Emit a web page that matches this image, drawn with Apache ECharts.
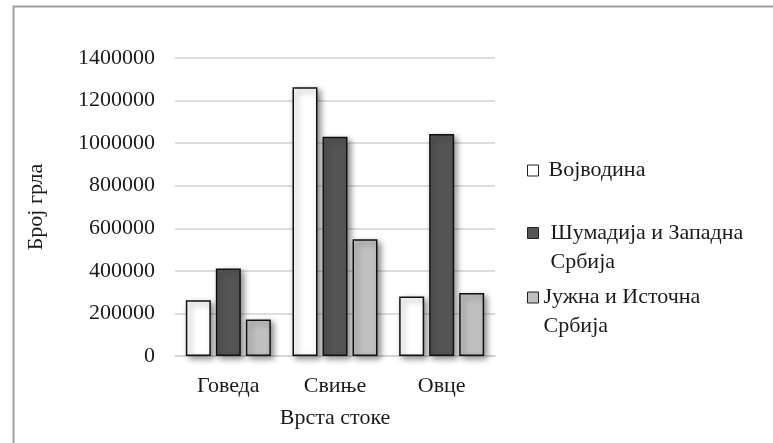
<!DOCTYPE html>
<html><head><meta charset="utf-8">
<script src="https://cdn.jsdelivr.net/npm/echarts@6/dist/echarts.min.js"></script>
<style>html,body{margin:0;padding:0;background:#fff}#c{width:773px;height:443px}</style>
</head><body><div id="c"></div>
<script>
var categories = ['Говеда', 'Свиње', 'Овце'];
var seriesNames = ['Војводина', 'Шумадија и Западна\nСрбија', 'Јужна и Источна\nСрбија'];
var vojvodina = [262000, 1263000, 279000];
var sumadija = [411000, 1030000, 1043000];
var juzna = [171000, 549000, 296000];
var yTicks = [0, 200000, 400000, 600000, 800000, 1000000, 1200000, 1400000];

var values = [vojvodina, sumadija, juzna];
var colors = ['#ffffff', '#555555', '#c0c0c0'];
var font = 'Liberation Serif';
var FS = 22, LH = 29;
var chart = echarts.init(document.getElementById('c'));
var legendTops = [156, 189.5, 254];
var legendPads = [[0, 0, 0, 5], [0, 0, 0, 7], [0, 0, 0, 0]];
var legends = seriesNames.map(function (n, i) {
  return {
    orient: 'vertical', left: 527, top: legendTops[i], data: [n], padding: 0,
    itemWidth: 11, itemHeight: 11, itemGap: 0, icon: 'rect',
    selectedMode: false,
    itemStyle: { borderColor: '#222', borderWidth: 1 },
    formatter: function (name) { return name.indexOf('\n') >= 0 ? '\n' + name : name; },
    textStyle: { fontFamily: font, fontSize: FS, color: '#1a1a1a', lineHeight: LH, padding: legendPads[i] }
  };
});
chart.setOption({
  backgroundColor: '#ffffff',
  animation: false,
  graphic: [{
    type: 'polyline', silent: true,
    shape: { points: [[13.5, 443], [13.5, 6.5], [773, 6.5]] },
    style: { stroke: '#a0a0a0', lineWidth: 2, fill: null }
  }],
  legend: legends,
  grid: { left: 175, right: 278, top: 58, bottom: 87 },
  xAxis: {
    type: 'category', data: categories,
    name: 'Врста стоке', nameLocation: 'middle', nameGap: 51,
    nameTextStyle: { fontFamily: font, fontSize: FS, color: '#1a1a1a' },
    axisLine: { lineStyle: { color: '#d6d1cc', width: 1.5 } },
    axisTick: { show: false },
    axisLabel: { fontFamily: font, fontSize: FS, color: '#1a1a1a', margin: 19 }
  },
  yAxis: {
    type: 'value', min: 0, max: 1400000, interval: 200000,
    name: 'Број грла', nameLocation: 'middle', nameGap: 128,
    nameTextStyle: { fontFamily: font, fontSize: FS, color: '#1a1a1a' },
    axisLine: { show: false }, axisTick: { show: false },
    axisLabel: {
      fontFamily: font, fontSize: FS, color: '#1a1a1a', margin: 20,
      formatter: function (v) { return yTicks.indexOf(v) >= 0 ? String(v) : ''; }
    },
    splitLine: { lineStyle: { color: '#d6d1cc', width: 1.5 } }
  },
  series: values.map(function (d, i) {
    return {
      type: 'bar', name: seriesNames[i], data: d,
      barWidth: 25, barGap: '20%', barCategoryGap: '20%',
      itemStyle: {
        color: colors[i], borderColor: '#111111', borderWidth: 1.5,
        shadowBlur: 6, shadowOffsetX: 3, shadowOffsetY: 3, shadowColor: 'rgba(0,0,0,0.45)'
      }
    };
  })
});
</script></body></html>
